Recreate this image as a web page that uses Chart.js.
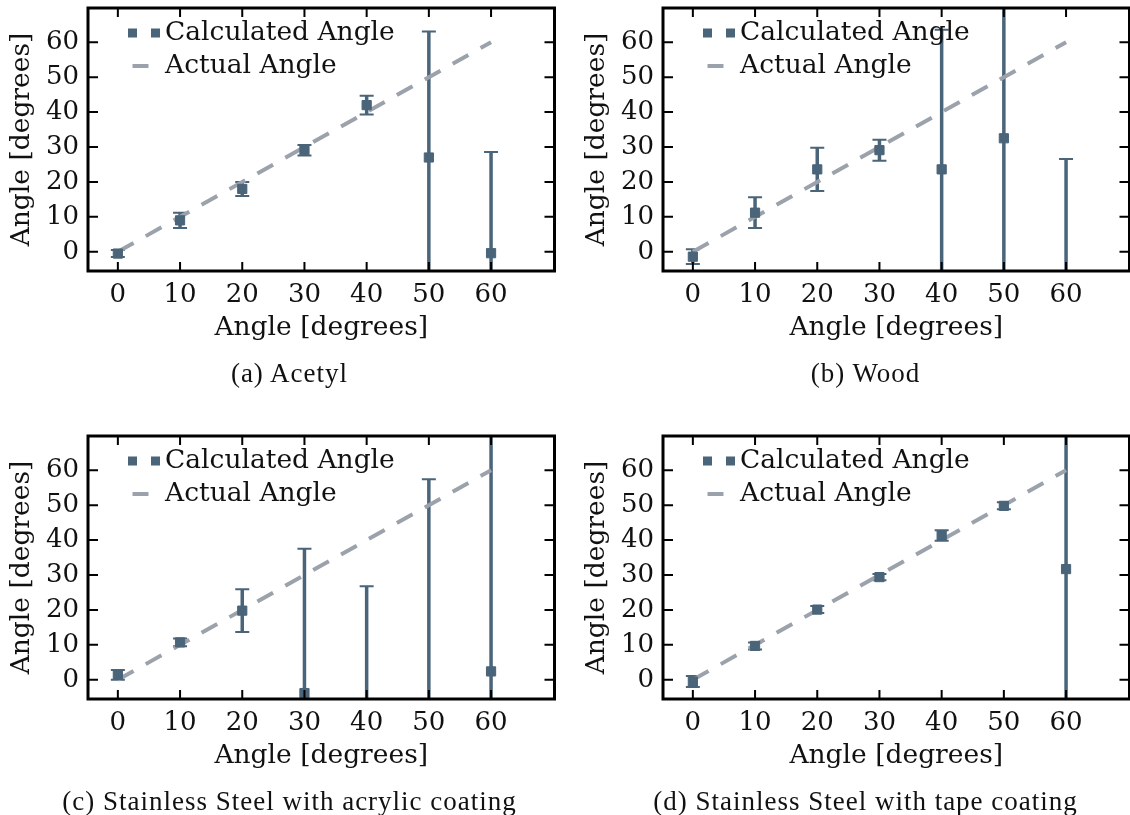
<!DOCTYPE html>
<html>
<head>
<meta charset="utf-8">
<script src="https://cdn.jsdelivr.net/npm/chart.js@4.4.1/dist/chart.umd.min.js"></script>
<style>
  html, body { margin: 0; padding: 0; background: #fff; overflow: hidden; }
  body { width: 1130px; height: 815px; position: relative; }
  canvas.panel { position: absolute; }
  .caption {
    position: absolute; width: 575px; text-align: center;
    font-family: "Liberation Serif", serif; font-size: 27px; line-height: 30px;
    letter-spacing: 1px; color: #111;
  }
</style>
</head>
<body>
<canvas id="acetyl" class="panel" width="575" height="400" style="left:0;top:0"></canvas>
<canvas id="wood" class="panel" width="575" height="400" style="left:575px;top:0"></canvas>
<canvas id="acrylic" class="panel" width="575" height="400" style="left:0;top:428px"></canvas>
<canvas id="tape" class="panel" width="575" height="400" style="left:575px;top:428px"></canvas>
<div class="caption" style="left:2px;top:358px">(a) Acetyl</div>
<div class="caption" style="left:578px;top:358px">(b) Wood</div>
<div class="caption" style="left:2px;top:786px">(c) Stainless Steel with acrylic coating</div>
<div class="caption" style="left:578px;top:786px">(d) Stainless Steel with tape coating</div>
<script>
// angle set on the rig
const xs = [0, 10, 20, 30, 40, 50, 60];
const actualAngle = [0, 10, 20, 30, 40, 50, 60];
const tickValues = [0, 10, 20, 30, 40, 50, 60];

// calculated angle + error (degrees)
const acetylAngle = [-0.5, 9, 18, 29.1, 42, 27, -0.4];
const acetylErr = [1.0, 2.2, 2.0, 1.5, 2.7, 36.1, 29];
const woodAngle = [-1.4, 11.2, 23.6, 29.1, 23.6, 32.5, -10];
const woodErr = [2.1, 4.4, 6.2, 3.0, 40, 45, 36.6];
const acrylicAngle = [1.4, 10.7, 19.8, -3.8, -12, -8, 2.4];
const acrylicErr = [1.4, 1.1, 6.1, 41.3, 38.8, 65.4, 75];
const tapeAngle = [-0.5, 9.7, 20.1, 29.4, 41.3, 49.8, 31.7];
const tapeErr = [1.6, 1.0, 1.0, 0.9, 1.5, 1.0, 45];

const calcColor = "#4a6479";
const actualColor = "#9ca2ac";
const FONT = "'DejaVu Serif', serif";

const errorBars = {
  id: "errorBars",
  beforeDatasetsDraw(chart) {
    const { ctx, chartArea: a, scales: { x, y } } = chart;
    const ds = chart.data.datasets[0];
    ctx.save();
    ctx.beginPath();
    ctx.rect(a.left, a.top, a.right - a.left, a.bottom - a.top);
    ctx.clip();
    ctx.strokeStyle = calcColor;
    ds.data.forEach((p, i) => {
      const e = ds.errors[i];
      const px = x.getPixelForValue(p.x);
      const top = y.getPixelForValue(p.y + e);
      const bot = y.getPixelForValue(p.y - e);
      ctx.lineWidth = 3.5;
      ctx.beginPath();
      ctx.moveTo(px, top);
      ctx.lineTo(px, bot);
      ctx.stroke();
      ctx.lineWidth = 2;
      ctx.beginPath();
      ctx.moveTo(px - 7, top); ctx.lineTo(px + 7, top);
      ctx.moveTo(px - 7, bot); ctx.lineTo(px + 7, bot);
      ctx.stroke();
    });
    ctx.restore();
  },
};

// box frame, inward ticks and the legend
const frame = {
  id: "frame",
  afterDraw(chart) {
    const { ctx, chartArea: a, scales: { x, y } } = chart;
    ctx.save();
    ctx.strokeStyle = "#000";
    ctx.lineWidth = 2;
    ctx.beginPath();
    tickValues.forEach((v) => {
      const px = x.getPixelForValue(v);
      ctx.moveTo(px, a.bottom); ctx.lineTo(px, a.bottom - 9);
      ctx.moveTo(px, a.top); ctx.lineTo(px, a.top + 9);
      const py = y.getPixelForValue(v);
      ctx.moveTo(a.left, py); ctx.lineTo(a.left + 10, py);
      ctx.moveTo(a.right, py); ctx.lineTo(a.right - 10, py);
    });
    ctx.stroke();
    ctx.lineWidth = 3;
    ctx.strokeRect(a.left, a.top, a.right - a.left, a.bottom - a.top);

    const [calc, actual] = chart.data.datasets;
    const row1 = a.top + 25;
    const row2 = a.top + 58;
    ctx.fillStyle = calcColor;
    ctx.fillRect(a.left + 40, row1 - 4.5, 9, 9);
    ctx.fillRect(a.left + 63, row1 - 4.5, 9, 9);
    ctx.strokeStyle = actualColor;
    ctx.lineWidth = 4;
    ctx.beginPath();
    ctx.moveTo(a.left + 44.5, row2);
    ctx.lineTo(a.left + 60.5, row2);
    ctx.stroke();
    ctx.fillStyle = "#111";
    ctx.font = "26.5px " + FONT;
    ctx.textBaseline = "middle";
    ctx.fillText(calc.label, a.left + 77, row1);
    ctx.fillText(actual.label, a.left + 77, row2);
    ctx.restore();
  },
};

function makePanel(id, angles, errs) {
  new Chart(document.getElementById(id), {
    type: "scatter",
    data: {
      datasets: [
        {
          label: "Calculated Angle",
          data: xs.map((x, i) => ({ x, y: angles[i] })),
          errors: errs,
          showLine: false,
          pointStyle: "rect",
          pointRadius: 6.5,
          pointBorderWidth: 1,
          backgroundColor: calcColor,
          borderColor: calcColor,
          clip: 0,
        },
        {
          label: "Actual Angle",
          data: xs.map((x, i) => ({ x, y: actualAngle[i] })),
          showLine: true,
          borderColor: actualColor,
          borderWidth: 4,
          borderDash: [18, 14],
          pointRadius: 0,
          clip: 0,
        },
      ],
    },
    options: {
      responsive: false,
      animation: false,
      devicePixelRatio: 1,
      layout: { padding: { top: 8, right: 20.5, bottom: 0, left: 0 } },
      plugins: { legend: { display: false }, tooltip: { enabled: false } },
      scales: {
        x: {
          type: "linear",
          min: -4.8,
          max: 70.2,
          afterBuildTicks: (s) => { s.ticks = tickValues.map((v) => ({ value: v })); },
          grid: { display: false, drawTicks: false },
          border: { display: false },
          ticks: { font: { family: FONT, size: 26 }, color: "#111", padding: 9, maxRotation: 0, autoSkip: false },
          title: {
            display: true, text: "Angle [degrees]", color: "#111",
            font: { family: FONT, size: 26.5 }, padding: { top: 0, bottom: 56 },
          },
          afterFit: (s) => { s.height = 129; s.paddingLeft = 0; s.paddingRight = 0; },
        },
        y: {
          type: "linear",
          min: -5.5,
          max: 69.8,
          afterBuildTicks: (s) => { s.ticks = tickValues.map((v) => ({ value: v })); },
          grid: { display: false, drawTicks: false },
          border: { display: false },
          ticks: { font: { family: FONT, size: 26 }, color: "#111", padding: 9, autoSkip: false },
          title: {
            display: true, text: "Angle [degrees]", color: "#111",
            font: { family: FONT, size: 26.5 }, padding: { top: 6, bottom: 0 },
          },
          afterFit: (s) => { s.width = 88; s.paddingTop = 0; s.paddingBottom = 0; },
        },
      },
    },
    plugins: [errorBars, frame],
  });
}

makePanel("acetyl", acetylAngle, acetylErr);
makePanel("wood", woodAngle, woodErr);
makePanel("acrylic", acrylicAngle, acrylicErr);
makePanel("tape", tapeAngle, tapeErr);
</script>
</body>
</html>
